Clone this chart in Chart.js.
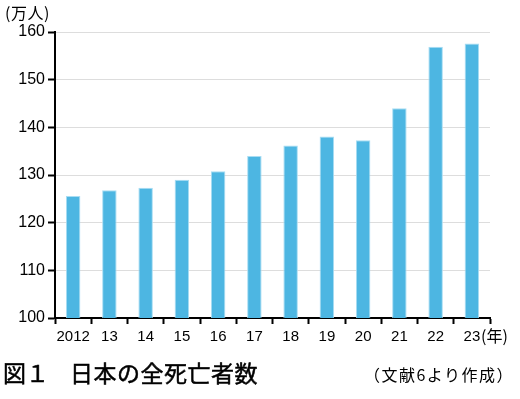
<!DOCTYPE html>
<html>
<head>
<meta charset="utf-8">
<script src="https://cdn.jsdelivr.net/npm/chart.js@4/dist/chart.umd.min.js"></script>
<style>
    body { margin: 0; background: #fff; }
    #wrap { position: relative; width: 520px; height: 399px; font-family: "Noto Sans CJK JP", sans-serif; color: #000; }
    #chart { position: absolute; left: 0; top: 0; }
    .lbl { position: absolute; white-space: nowrap; line-height: 1; }
    .ttl { font-size: 23px; -webkit-text-stroke: 0.5px #000; }
</style>
</head>
<body>
<div id="wrap">
    <canvas id="chart" width="520" height="360"></canvas>
    <div class="lbl" style="left:5px; top:4px; font-size:16px; letter-spacing:0.5px;">(万人)</div>
    <div class="lbl" style="left:481px; top:327px; font-size:16px;">(年)</div>
    <div class="lbl ttl" style="left:3px; top:361px;">図１</div>
    <div class="lbl ttl" style="left:70px; top:361px; letter-spacing:0.5px;">日本の全死亡者数</div>
    <div class="lbl" style="right:6px; top:366px; font-size:16px; letter-spacing:1.5px;">（文献6より作成）</div>
</div>
<script>
// data (万人)
const years = ['2012', '13', '14', '15', '16', '17', '18', '19', '20', '21', '22', '23'];
const deaths = [125.6, 126.8, 127.3, 129.0, 130.8, 134.0, 136.2, 138.1, 137.3, 144.0, 156.9, 157.6];
const yTicks = [100, 110, 120, 130, 140, 150, 160];

const xFont = { family: '"Liberation Sans", Arial, sans-serif', size: 15 };
const yFont = { family: '"Liberation Sans", Arial, sans-serif', size: 16 };

const ctx = document.getElementById('chart').getContext('2d');
new Chart(ctx, {
    type: 'bar',
    data: {
        labels: years,
        datasets: [{
            data: deaths,
            backgroundColor: '#4db6e2',
            borderColor: '#a9ddf3',
            borderWidth: 1,
            barPercentage: 0.4,
            categoryPercentage: 1
        }]
    },
    options: {
        responsive: false,
        animation: false,
        layout: { padding: { left: 0, right: 30, top: 32, bottom: 0 } },
        plugins: { legend: { display: false }, tooltip: { enabled: false } },
        scales: {
            x: {
                offset: true,
                grid: { offset: true, drawOnChartArea: false, tickColor: '#000', tickLength: 6, tickWidth: 2 },
                border: { color: '#000', width: 2 },
                ticks: { color: '#000', font: xFont, padding: 4, maxRotation: 0, autoSkip: false },
                afterFit: s => { s.height = 42; }
            },
            y: {
                min: yTicks[0],
                max: yTicks[yTicks.length - 1],
                grid: { color: '#dddddd', lineWidth: 1, tickColor: '#000', tickLength: 7, tickWidth: 2 },
                border: { color: '#000', width: 2 },
                ticks: { stepSize: 10, color: '#000', font: yFont, padding: 3 },
                afterFit: s => { s.width = 55; }
            }
        }
    }
});
</script>
</body>
</html>
